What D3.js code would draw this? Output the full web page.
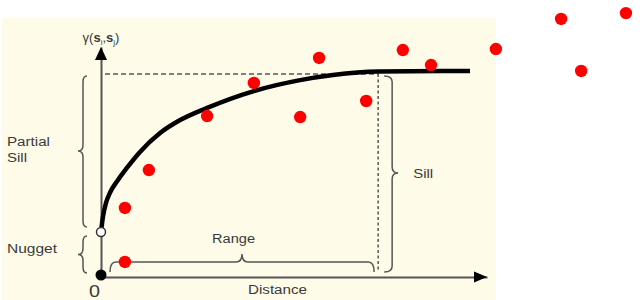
<!DOCTYPE html>
<html>
<head>
<meta charset="utf-8">
<script src="https://cdn.jsdelivr.net/npm/d3@7/dist/d3.min.js"></script>
<style>
  html, body { margin: 0; padding: 0; background: #ffffff; }
  svg { display: block; }
  text { font-family: "Liberation Sans", Arial, sans-serif; fill: #3a3a3a; }
</style>
</head>
<body>
<svg id="chart" width="644" height="300"></svg>
<script>
// ---- data ----
const ptX = [6.2, 6.2, 12.4, 27.5, 39.6, 51.6, 56.5, 68.7, 78.2, 85.5, 102.3, 119.2, 124.4, 136.0];
const ptY = [0.74, 3.40, 5.27, 7.93, 9.56, 7.88, 10.79, 8.67, 11.18, 10.44, 11.23, 12.71, 10.15, 13.0];

const curveX = [0, 0.5, 1.3, 2.3, 4.4, 6.7, 10.1, 15.3, 20.5, 27.5, 39.6, 51.6, 60.1, 71.8, 95.6];
const curveY = [2.22, 2.96, 3.65, 4.14, 4.78, 5.37, 6.16, 7.09, 7.73, 8.33, 9.16, 9.70, 9.95, 10.12, 10.15];

const nugget = 2.22;
const sill = 10;
const range = 71.8;

const labels = {
  partial: "Partial", partialSill: "Sill", nugget: "Nugget",
  range: "Range", sill: "Sill", distance: "Distance", origin: "0"
};

// ---- scales ----
const svg = d3.select("#chart");
const x = d3.scaleLinear().domain([0, 100]).range([101, 487]);
const y = d3.scaleLinear().domain([0, 11.33]).range([277, 47]);

// background panel
svg.append("rect").attr("x", 2).attr("y", 18).attr("width", 494).attr("height", 282)
  .attr("fill", "#fefbe8");

const gray = "#4a4a4a";

// axes (no ticks), drawn by d3 axes
const xAxis = svg.append("g").attr("transform", `translate(0,${y(0)})`)
  .call(d3.axisBottom(x).tickValues([]).tickSizeOuter(0));
const yAxis = svg.append("g").attr("transform", `translate(${x(0)},0)`)
  .call(d3.axisLeft(y).tickValues([]).tickSizeOuter(0));
svg.selectAll(".domain").attr("stroke", "#555").attr("stroke-width", 2);

// arrowheads
svg.append("path")
  .attr("d", `M${x(100)},${y(0)} L${x(100) - 13},${y(0) - 5.5} L${x(100) - 13},${y(0) + 5.5} Z`)
  .attr("fill", "#000");
svg.append("path")
  .attr("d", `M${x(0)},${y(11.33)} L${x(0) - 6},${y(11.33) + 13} L${x(0) + 6},${y(11.33) + 13} Z`)
  .attr("fill", "#000");

// dashed sill / range lines
svg.append("line")
  .attr("x1", x(0) + 4).attr("x2", x(range)).attr("y1", y(sill)).attr("y2", y(sill))
  .attr("stroke", "#555").attr("stroke-width", 1.5).attr("stroke-dasharray", "5,3");
svg.append("line")
  .attr("x1", x(range)).attr("x2", x(range)).attr("y1", y(sill)).attr("y2", y(0) - 6)
  .attr("stroke", "#555").attr("stroke-width", 1.5).attr("stroke-dasharray", "3,2.5");

// curly brace helpers
function vbrace(xm, y1, y2, dir, curl, tip, ymid) {
  // dir = -1 tip to left, +1 tip to right; ends curl opposite
  const e = -dir * curl, t = dir * tip, r = 6;
  const ym = ymid === undefined ? (y1 + y2) / 2 : ymid;
  return `M${xm + e},${y1} Q${xm},${y1} ${xm},${y1 + r} L${xm},${ym - r} Q${xm},${ym} ${xm + t},${ym}` +
         ` Q${xm},${ym} ${xm},${ym + r} L${xm},${y2 - r} Q${xm},${y2} ${xm + e},${y2}`;
}
function hbrace(ym, x1, x2, dir, curl, tip, xmid) {
  const e = -dir * curl, t = dir * tip, r = 6;
  const xc = xmid === undefined ? (x1 + x2) / 2 : xmid;
  return `M${x1},${ym + e} Q${x1},${ym} ${x1 + r},${ym} L${xc - r},${ym} Q${xc},${ym} ${xc},${ym + t}` +
         ` Q${xc},${ym} ${xc + r},${ym} L${x2 - r},${ym} Q${x2},${ym} ${x2},${ym + e}`;
}
const braceStyle = sel => sel.attr("fill", "none").attr("stroke", "#555").attr("stroke-width", 1.5);

// partial sill brace
svg.append("path").attr("d", vbrace(x(0) - 18, y(sill) + 2, y(nugget) - 5, -1, 4, 5, (y(sill) + y(nugget)) / 2 - 2)).call(braceStyle);
// nugget brace
svg.append("path").attr("d", vbrace(x(0) - 18, y(nugget) + 4, y(0) - 4, -1, 4, 5)).call(braceStyle);
// sill brace (right)
svg.append("path").attr("d", vbrace(x(range) + 14, y(sill) + 2, y(0) - 5, 1, 8, 6, 173)).call(braceStyle);
// range brace
svg.append("path").attr("d", hbrace(y(0.74), x(0) + 9, x(range) - 4, -1, 10, 8, 242)).call(braceStyle);

// model curve
const line = d3.line().x((d, i) => x(curveX[i])).y((d, i) => y(curveY[i])).curve(d3.curveMonotoneX);
svg.append("path").datum(curveX).attr("d", line)
  .attr("fill", "none").attr("stroke", "#000").attr("stroke-width", 4.5).attr("stroke-linecap", "butt");

// origin dot & nugget open circle
svg.append("circle").attr("cx", x(0)).attr("cy", y(0) - 2).attr("r", 5.5).attr("fill", "#000");
svg.append("circle").attr("cx", x(0)).attr("cy", y(nugget)).attr("r", 4.5)
  .attr("fill", "#fff").attr("stroke", "#333").attr("stroke-width", 1.5);

// observed points
svg.selectAll("circle.pt").data(ptX).enter().append("circle")
  .attr("class", "pt")
  .attr("cx", (d, i) => x(ptX[i])).attr("cy", (d, i) => y(ptY[i]))
  .attr("r", 6.2).attr("fill", "#ff0000");

// labels
function label(txt, px, py, size, len, anchor) {
  const t = svg.append("text").attr("x", px).attr("y", py).attr("font-size", size)
    .attr("text-anchor", anchor || "start").text(txt);
  if (len) t.attr("textLength", len).attr("lengthAdjust", "spacingAndGlyphs");
  return t;
}
label(labels.partial, 7, 146, 12.5, 43);
label(labels.partialSill, 7, 162, 12.5, 20);
label(labels.nugget, 7, 253, 12.5, 50);
label(labels.range, 212, 243, 12.5, 43);
label(labels.sill, x(range) + 35, 178, 12.5, 20);
label(labels.distance, 248, 294, 12.5, 59);
label(labels.origin, x(0) - 12, 297, 17, 11);

// y label gamma(s_i, s_j)
const yl = svg.append("text").attr("x", x(0)).attr("y", 42).attr("text-anchor", "middle")
  .attr("font-size", 13).attr("fill", "#333");
yl.append("tspan").text("γ(");
yl.append("tspan").attr("font-weight", "bold").text("s");
yl.append("tspan").attr("font-size", 8).attr("dy", 3).text("i");
yl.append("tspan").attr("dy", -3).text(",");
yl.append("tspan").attr("font-weight", "bold").text("s");
yl.append("tspan").attr("font-size", 8).attr("dy", 3).text("j");
yl.append("tspan").attr("dy", -3).text(")");
</script>
</body>
</html>
